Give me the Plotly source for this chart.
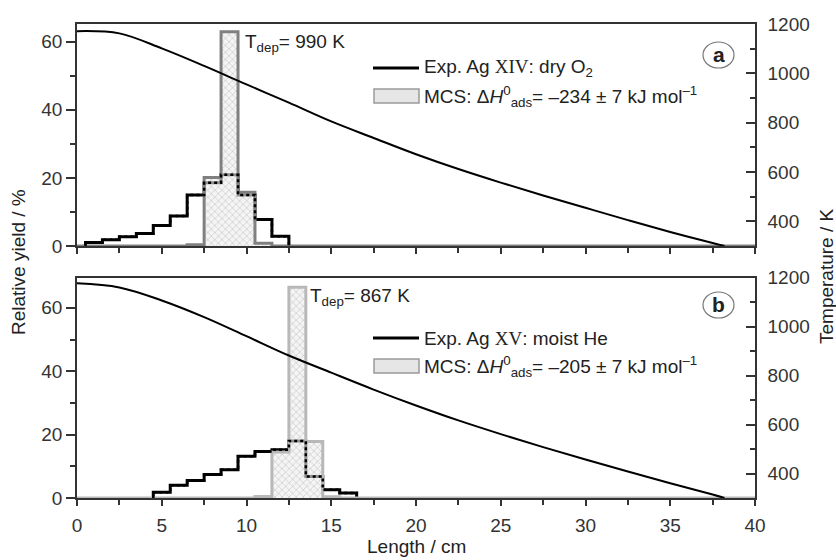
import plotly.graph_objects as go

# ---------------- data ----------------
# Panel (a): dry O2, Ag XIV
exp_a_bins = [1, 2, 3, 4, 5, 6, 7, 8, 9, 10, 11, 12]
exp_a_vals = [1.0, 1.8, 2.7, 3.7, 6.0, 8.8, 15.0, 18.6, 20.9, 15.0, 7.8, 2.9]
mcs_a_bins = [7, 8, 9, 10, 11]
mcs_a_vals = [0.4, 20.1, 62.9, 15.8, 0.8]
temp_len = [0, 2.5, 5, 7.5, 10, 12.5, 15, 17.5, 20, 22.5, 25, 27.5, 30, 32.5, 35, 37.5, 38.2]
temp_a = [1171, 1162, 1101, 1030, 955, 881, 805, 738, 672, 612, 557, 505, 455, 405, 357, 312, 300]

# Panel (b): moist He, Ag XV
exp_b_bins = [5, 6, 7, 8, 9, 10, 11, 12, 13, 14, 15, 16]
exp_b_vals = [1.8, 4.0, 5.5, 7.4, 8.9, 13.2, 14.7, 15.2, 18.0, 6.8, 2.6, 1.6]
mcs_b_bins = [11, 12, 13, 14, 15]
mcs_b_vals = [0.5, 14.5, 66.5, 17.8, 0.4]
temp_b = [1177, 1160, 1107, 1039, 961, 882, 812, 743, 678, 617, 561, 508, 457, 408, 360, 314, 300]

SERIF = '<span style="font-family:\'Liberation Serif\',\'Times New Roman\',serif">%s</span>'
tdep_a = "T<sub>dep</sub>= 990 K"
tdep_b = "T<sub>dep</sub>= 867 K"
legend_a = ["Exp. Ag " + SERIF % "XIV" + ": dry O<sub>2</sub>",
            "MCS: Δ<i>H</i><sup>0</sup><sub>ads</sub>= –234 ± 7 kJ mol<sup>–1</sup>"]
legend_b = ["Exp. Ag " + SERIF % "XV" + ": moist He",
            "MCS: Δ<i>H</i><sup>0</sup><sub>ads</sub>= –205 ± 7 kJ mol<sup>–1</sup>"]
X_RANGE = [0, 40]
BIN_W = 1.0

# ---------------- layout geometry ----------------
W, H = 836, 560
L, R, T, B = 77, 81, 24, 62
PW, PH = W - L - R, H - T - B


def px(x):
    return (x - L) / PW


def py(y):
    return (H - B - y) / PH


def step(bins, vals, x0=None, x1=None):
    lefts = [c - BIN_W / 2 for c in bins]
    hi = bins[-1] + BIN_W / 2
    xs = [lefts[0]] + lefts + [hi, hi]
    ys = [0] + list(vals) + [vals[-1], 0]
    if x0 is not None:
        xs = [x0] + xs + [x1]
        ys = [0] + ys + [0]
    return xs, ys


FONT = "Liberation Sans, Arial, sans-serif"
FS = 19
AX = "#333333"

fig = go.Figure()

pattern = dict(shape="x", size=5, solidity=0.25, fgcolor="#a0a0a0",
               bgcolor="rgba(236,236,236,0.6)")


def add_panel(exp_bins, exp_vals, mcs_bins, mcs_vals, temps, outline, xa, ya, ya2):
    ex, ey = step(exp_bins, exp_vals)
    fig.add_trace(go.Scatter(x=ex, y=ey, mode="lines", line=dict(color="black", width=3, shape="hv"),
                             xaxis=xa, yaxis=ya, showlegend=False))
    mx, my = step(mcs_bins, mcs_vals, X_RANGE[0], X_RANGE[1])
    fig.add_trace(go.Scatter(x=mx, y=my, mode="lines", line=dict(color=outline, width=3, shape="hv"),
                             fill="tozeroy", fillpattern=pattern, xaxis=xa, yaxis=ya, showlegend=False))
    # experimental step seen through the simulated histogram (dotted look)
    fig.add_trace(go.Scatter(x=ex, y=ey, mode="lines",
                             line=dict(color="black", width=2.5, shape="hv", dash="dot"),
                             xaxis=xa, yaxis=ya, showlegend=False))
    fig.add_trace(go.Scatter(x=temp_len, y=temps, mode="lines",
                             line=dict(color="black", width=2, shape="spline"),
                             xaxis=xa, yaxis=ya2, showlegend=False))


add_panel(exp_a_bins, exp_a_vals, mcs_a_bins, mcs_a_vals, temp_a, "#808080", "x2", "y", "y2")
add_panel(exp_b_bins, exp_b_vals, mcs_b_bins, mcs_b_vals, temp_b, "#b8b8b8", "x", "y3", "y4")

top_dom = [py(246), 1]
bot_dom = [0, py(277.7)]

xcommon = dict(range=X_RANGE, dtick=5, tick0=0, ticks="outside", ticklen=6, tickwidth=1.5, tickcolor=AX,
               minor=dict(dtick=2.5, ticks="outside", ticklen=5, tickwidth=1.5, tickcolor=AX),
               showline=True, linecolor=AX, linewidth=1.5, mirror=True, showgrid=False, zeroline=False,
               layer="below traces", ticklabelstandoff=3,
               tickfont=dict(family=FONT, size=FS, color=AX))
yleft = dict(dtick=20, tick0=0, ticks="outside", ticklen=9, tickwidth=1.5, tickcolor=AX,
             minor=dict(dtick=10, ticks="outside", ticklen=5, tickwidth=1.5, tickcolor=AX),
             showline=True, linecolor=AX, linewidth=1.5, showgrid=False, zeroline=False,
             tickfont=dict(family=FONT, size=FS, color=AX))
yright = dict(range=[300, 1200], dtick=200, tick0=0, ticks="inside", ticklen=9, tickwidth=1.5, tickcolor=AX,
              minor=dict(dtick=100, ticks="inside", ticklen=5, tickwidth=1.5, tickcolor=AX),
              showline=True, linecolor=AX, linewidth=1.5, showgrid=False, zeroline=False, side="right",
              ticklabelstandoff=7,
              tickfont=dict(family=FONT, size=FS, color=AX))

fig.update_layout(
    width=W, height=H, margin=dict(l=L, r=R, t=T, b=B),
    paper_bgcolor="white", plot_bgcolor="white",
    font=dict(family=FONT, size=FS, color="#222222"),
    xaxis=dict(**xcommon, anchor="y3"),
    xaxis2=dict(**xcommon, anchor="y", matches="x", showticklabels=False),
    yaxis=dict(**yleft, domain=top_dom, range=[0, 65.2], anchor="x2"),
    yaxis2=dict(**yright, overlaying="y", anchor="x2"),
    yaxis3=dict(**yleft, domain=bot_dom, range=[0, 69.5], anchor="x"),
    yaxis4=dict(**yright, overlaying="y3", anchor="x"),
)

ann = []
shapes = []
TF = dict(family=FONT, size=FS, color="#222")
# axis titles
ann.append(dict(text="Relative yield / %", x=px(18), y=py(262), xref="paper", yref="paper",
                textangle=-90, showarrow=False, xanchor="center", yanchor="middle", font=TF))
ann.append(dict(text="Temperature / K", x=px(826), y=py(277), xref="paper", yref="paper",
                textangle=-90, showarrow=False, xanchor="center", yanchor="middle", font=TF))
ann.append(dict(text="Length / cm", x=px(416), y=py(546), xref="paper", yref="paper",
                showarrow=False, xanchor="center", yanchor="middle", font=TF))

# T_dep labels
ann.append(dict(text=tdep_a, x=px(243), y=py(43), xref="paper", yref="paper", showarrow=False,
                xanchor="left", yanchor="middle", font=TF))
ann.append(dict(text=tdep_b, x=px(308), y=py(297), xref="paper", yref="paper", showarrow=False,
                xanchor="left", yanchor="middle", font=TF))

# legends and panel labels
for (lab, ly, labels) in [("a", 0, legend_a), ("b", 270, legend_b)]:
    y_line = 68 + ly
    y_box0, y_box1 = 89 + ly, 103 + ly
    shapes.append(dict(type="line", xref="paper", yref="paper", x0=px(373), x1=px(419),
                       y0=py(y_line), y1=py(y_line), line=dict(color="black", width=3)))
    shapes.append(dict(type="rect", xref="paper", yref="paper", x0=px(374), x1=px(419),
                       y0=py(y_box1), y1=py(y_box0), fillcolor="#e6e6e6",
                       line=dict(color="#9a9a9a", width=1.5)))
    ann.append(dict(text=labels[0], x=px(422), y=py(y_line), xref="paper", yref="paper", showarrow=False,
                    xanchor="left", yanchor="middle", font=TF))
    ann.append(dict(text=labels[1], x=px(422), y=py(96 + ly), xref="paper", yref="paper", showarrow=False,
                    xanchor="left", yanchor="middle", font=TF))
    cy = 55 + (250 if lab == "b" else 0)
    shapes.append(dict(type="circle", xref="paper", yref="paper", x0=px(703), x1=px(734),
                       y0=py(cy + 13), y1=py(cy - 13), line=dict(color="#777", width=1.2)))
    ann.append(dict(text="<b>%s</b>" % lab, x=px(718.5), y=py(cy - 1), xref="paper", yref="paper",
                    showarrow=False, xanchor="center", yanchor="middle",
                    font=dict(family=FONT, size=21, color="#222")))

fig.update_layout(annotations=ann, shapes=shapes)
fig.write_html("out.html", config={"displayModeBar": False},
               post_script="document.body.style.margin='0px';")
